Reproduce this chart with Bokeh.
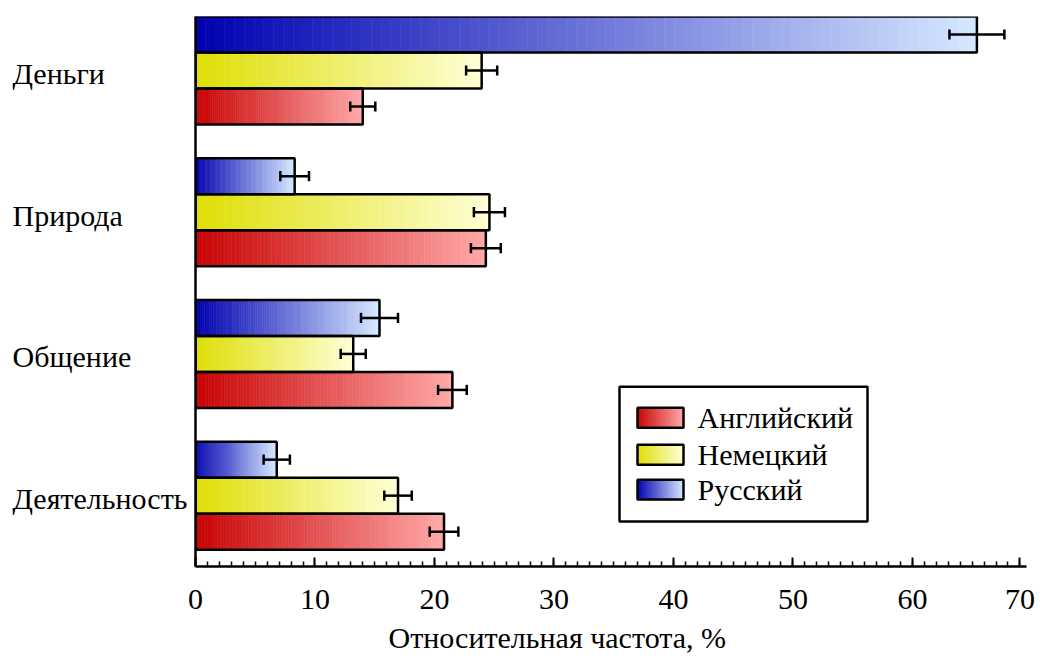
import numpy as np
from bokeh.plotting import figure
from bokeh.layouts import row
from bokeh.models import Range1d, FixedTicker, Title
from bokeh.embed import file_html
from bokeh.resources import INLINE
from bokeh.core.properties import value

# ---------------- data ----------------
categories = ["Деньги", "Природа", "Общение", "Деятельность"]
russian = [65.4, 8.3, 15.4, 6.8]
russian_err = [2.3, 1.2, 1.55, 1.1]
german = [23.95, 24.6, 13.2, 16.95]
german_err = [1.3, 1.3, 1.05, 1.15]
english = [14.0, 24.3, 21.5, 20.8]
english_err = [1.05, 1.25, 1.2, 1.2]
legend_labels = ["Английский", "Немецкий", "Русский"]
x_ticks = [0, 10, 20, 30, 40, 50, 60, 70]
x_title = "Относительная частота, %"

# ---------------- style ----------------
FONT = value("Liberation Serif")
FS = "30px"
RED = ("#C80202", "#FFA8A8")
YELLOW = ("#DEDE02", "#FFFFD6")
BLUE = ("#0000B0", "#D6E8FF")
BH = 0.254
N = 80

W, H = 1040, 661
LAB_W = 187                      # width of the category-label strip
FRAME_L, FRAME_R, FRAME_T, FRAME_B = 195, 1026, 16, 567  # page px
XMAX = 69.55
YTOP, YBOT = -1.5 * BH, 3.5

y_range = Range1d(YBOT, YTOP)
p = figure(width=W - LAB_W, height=H, output_backend="svg", toolbar_location=None,
           x_range=Range1d(0, XMAX), y_range=y_range,
           min_border_left=FRAME_L - LAB_W, min_border_right=W - FRAME_R,
           min_border_top=FRAME_T, min_border_bottom=H - FRAME_B)
p.outline_line_color = None
p.xgrid.visible = False
p.ygrid.visible = False
p.background_fill_color = "white"


def px2x(px):
    return (px - FRAME_L) / (FRAME_R - FRAME_L) * XMAX


def px2y(py):
    return YTOP + (py - FRAME_T) / (FRAME_B - FRAME_T) * (YBOT - YTOP)


def lerp(c0, c1, t):
    a = [int(c0[i:i + 2], 16) for i in (1, 3, 5)]
    b = [int(c1[i:i + 2], 16) for i in (1, 3, 5)]
    return "#%02x%02x%02x" % tuple(int(round(a[k] + (b[k] - a[k]) * t)) for k in range(3))


def gradient(x0, x1, yc, h, cols):
    L, R, T, B, C = [], [], [], [], []
    edges = np.linspace(x0, x1, N + 1)
    for k in range(N):
        L.append(edges[k]); R.append(edges[k + 1])
        T.append(yc - h / 2); B.append(yc + h / 2)
        C.append(lerp(cols[0], cols[1], (k + 0.5) / N))
    return L, R, T, B, C


series = [(russian, russian_err, BLUE, -BH),
          (german, german_err, YELLOW, 0.0),
          (english, english_err, RED, BH)]

gl, gr, gt, gb, gc = [], [], [], [], []
for vals, errs, cols, off in series:
    for i, v in enumerate(vals):
        L, R, T, B, C = gradient(0, v, i + off, BH, cols)
        gl += L; gr += R; gt += T; gb += B; gc += C
p.quad(left=gl, right=gr, top=gt, bottom=gb, fill_color=gc, line_color=gc, line_width=0.6)

for vals, errs, cols, off in series:
    ys = [i + off for i in range(len(vals))]
    p.hbar(y=ys, left=0, right=vals, height=BH, fill_alpha=0,
           line_color="black", line_width=2.5)
    lo = [v - e for v, e in zip(vals, errs)]
    hi = [v + e for v, e in zip(vals, errs)]
    p.segment(x0=lo, x1=hi, y0=ys, y1=ys, line_color="black", line_width=2.5)
    cap = 0.036
    p.segment(x0=lo + hi, x1=lo + hi, y0=[y - cap for y in ys] * 2,
              y1=[y + cap for y in ys] * 2, line_color="black", line_width=2.5)

# ---------------- legend (drawn manually, gradient swatches) ----------------
p.quad(left=[px2x(619)], right=[px2x(867)], top=[px2y(387)], bottom=[px2y(522)],
       fill_color="white", line_color="black", line_width=2.5)
leg_cols = [RED, YELLOW, BLUE]
leg_y = [px2y(418), px2y(455), px2y(490)]
sh = px2y(428) - px2y(408)
ll, lr, lt, lb, lc = [], [], [], [], []
for cols, yc in zip(leg_cols, leg_y):
    L, R, T, B, C = gradient(px2x(637), px2x(683), yc, sh, cols)
    ll += L; lr += R; lt += T; lb += B; lc += C
p.quad(left=ll, right=lr, top=lt, bottom=lb, fill_color=lc, line_color=lc, line_width=0.6)
p.rect(x=[(px2x(637) + px2x(683)) / 2] * 3, y=leg_y, width=px2x(683) - px2x(637), height=sh,
       fill_alpha=0, line_color="black", line_width=2.5)
p.text(x=[px2x(697)] * 3, y=leg_y, text=legend_labels, text_font=FONT,
       text_font_size=FS, text_baseline="middle", text_color="black")

# ---------------- axes ----------------
xa = p.xaxis[0]
end_tick = 69  # the last label sits just before the axis end
xa.ticker = FixedTicker(ticks=x_ticks[:-1] + [end_tick], minor_ticks=list(range(0, 70)))
xa.major_label_overrides = {end_tick: str(x_ticks[-1])}
xa.axis_line_width = 2.5
xa.axis_line_color = "black"
xa.major_tick_in = 9
xa.major_tick_out = 0
xa.minor_tick_in = 5
xa.minor_tick_out = 0
xa.major_tick_line_width = 2
xa.minor_tick_line_width = 1.5
xa.major_label_text_font = "Liberation Serif"
xa.major_label_text_font_size = FS
xa.major_label_text_color = "black"
xa.major_label_standoff = 23

ya = p.yaxis[0]
ya.ticker = FixedTicker(ticks=[])
ya.axis_line_width = 2.5
ya.axis_line_color = "black"
ya.major_tick_line_color = None
ya.minor_tick_line_color = None
ya.major_label_text_font_size = "0px"

p.add_layout(Title(text=x_title, align="left", offset=193, text_font="Liberation Serif",
                   text_font_size=FS, text_font_style="normal", text_color="black",
                   standoff=15), "below")

# ---------------- category labels (left-aligned strip) ----------------
lab = figure(width=LAB_W, height=H, output_backend="svg", toolbar_location=None,
             x_range=Range1d(0, LAB_W), y_range=y_range,
             x_axis_type=None, y_axis_type=None,
             min_border_left=0, min_border_right=0,
             min_border_top=FRAME_T, min_border_bottom=H - FRAME_B)
lab.outline_line_color = None
lab.xgrid.visible = False
lab.ygrid.visible = False
lab.text(x=[12] * len(categories), y=[i + 0.02 for i in range(len(categories))],
         text=categories, text_font=FONT, text_font_size=FS,
         text_baseline="middle", text_align="left", text_color="black")

layout = row(lab, p, spacing=0)
open("out.html", "w").write(file_html(layout, INLINE))
